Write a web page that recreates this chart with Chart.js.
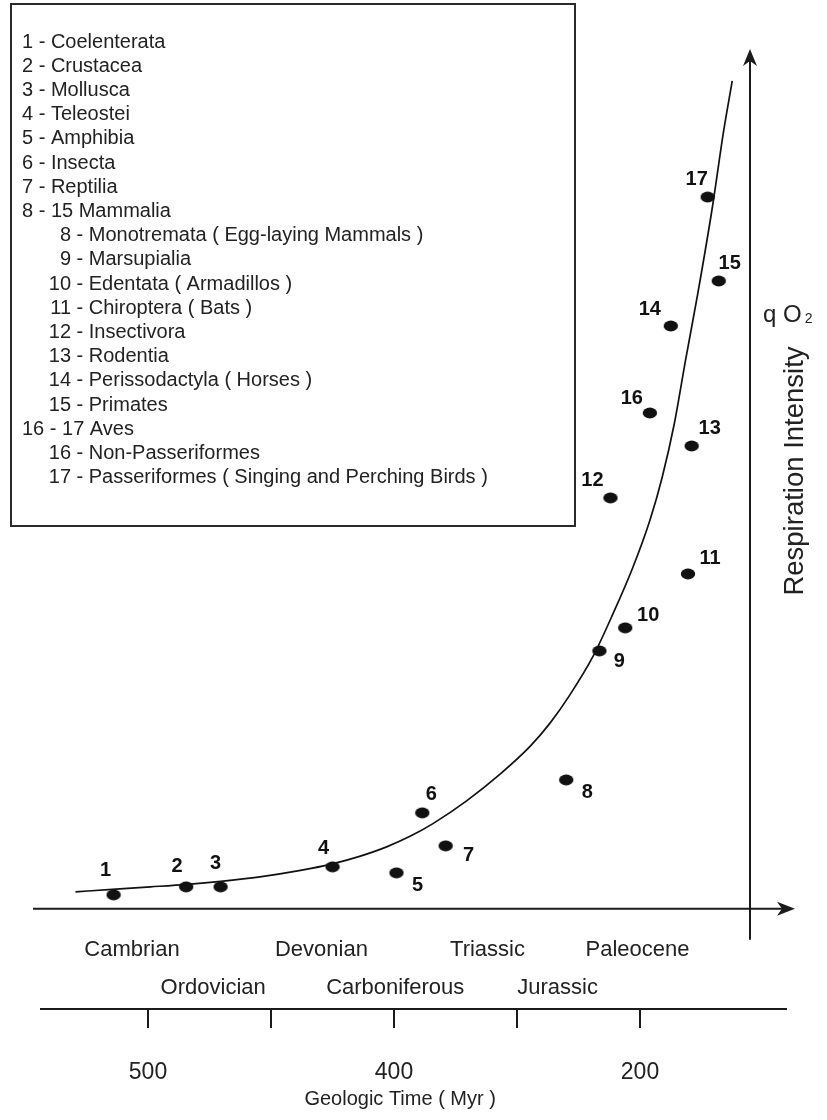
<!DOCTYPE html>
<html>
<head>
<meta charset="utf-8">
<title>Respiration intensity through geologic time</title>
<script src="https://cdn.jsdelivr.net/npm/chart.js@4.4.1/dist/chart.umd.min.js"></script>
<style>
  html, body { margin: 0; padding: 0; background: #fff; }
  canvas { display: block; }
</style>
</head>
<body>
<canvas id="chart" width="827" height="1120"></canvas>
<script>
// ---------------- data ----------------
const taxonIds = [1, 2, 3, 4, 5, 6, 7, 8, 9, 10, 11, 12, 13, 14, 15, 16, 17];
const taxonNames = [
  'Coelenterata', 'Crustacea', 'Mollusca', 'Teleostei', 'Amphibia', 'Insecta', 'Reptilia',
  'Monotremata ( Egg-laying Mammals )', 'Marsupialia', 'Edentata ( Armadillos )',
  'Chiroptera ( Bats )', 'Insectivora', 'Rodentia', 'Perissodactyla ( Horses )', 'Primates',
  'Non-Passeriformes', 'Passeriformes ( Singing and Perching Birds )'
];
const groupTitles = ['8 - 15 Mammalia', '16 - 17 Aves'];
const groupStarts = [8, 16];

// time axis position (tick units: 0 = 500 Myr, 2 = 400 Myr, 4 = 200 Myr)
const taxonTime = [-0.28, 0.31, 0.59, 1.50, 2.02, 2.23, 2.42, 3.40, 3.67, 3.88, 4.39, 3.76, 4.42, 4.25, 4.64, 4.08, 4.55];
// relative respiration intensity (q O2)
const taxonQO2 = [1.65, 2.59, 2.59, 4.95, 4.24, 11.31, 7.42, 15.19, 30.39, 33.10, 39.46, 48.41, 54.53, 68.67, 73.97, 58.42, 83.86];

// trend curve
const trendTime = [-0.59, -0.29, 0.02, 0.32, 0.59, 0.91, 1.24, 1.50, 1.72, 1.94, 2.13, 2.32, 2.59, 2.86, 3.11, 3.27, 3.43, 3.62, 3.78, 3.94, 4.08, 4.18, 4.28, 4.37, 4.47, 4.59, 4.68, 4.75];
const trendQO2  = [2.00, 2.30, 2.59, 2.89, 3.24, 3.77, 4.53, 5.30, 6.18, 7.30, 8.54, 10.07, 12.72, 15.84, 19.20, 21.91, 25.21, 29.80, 34.75, 40.16, 45.76, 50.82, 57.24, 64.61, 72.50, 82.80, 91.64, 97.53];

const timeTicks = [0, 1, 2, 3, 4];
const timeTickLabels = ['500', '', '400', '', '200'];
const timeTitle = 'Geologic Time ( Myr )';

const periodNames = ['Cambrian', 'Ordovician', 'Devonian', 'Carboniferous', 'Triassic', 'Jurassic', 'Paleocene'];
const periodTime  = [-0.13, 0.53, 1.41, 2.01, 2.76, 3.33, 3.98];
const periodRow   = [0, 1, 0, 1, 0, 1, 0];

// ---------------- styling ----------------
const FONT = "'Liberation Sans', Arial, Helvetica, sans-serif";
const INK = '#1b1b1b';
// label placement around each dot: [dx, dy] in pixels
const labelOffsets = [[-8,-26],[-9,-22],[-5,-25],[-9,-20],[21,11],[9,-20],[23,8],[21,11],[20,9],[23,-14],[22,-17],[-18,-19],[18,-19],[-21,-18],[11,-19],[-18,-16],[-11,-19]];

// elliptical dot marker
const dot = document.createElement('canvas');
dot.width = 16; dot.height = 12;
(function () {
  const d = dot.getContext('2d');
  d.fillStyle = '#111';
  d.beginPath();
  d.ellipse(8, 6, 7.2, 5.4, 0, 0, Math.PI * 2);
  d.fill();
})();

const taxonPoints = taxonTime.map((t, i) => ({ x: t, y: taxonQO2[i] }));
const trendPoints = trendTime.map((t, i) => ({ x: t, y: trendQO2[i] }));

function arrowHead(ctx, tipX, tipY, dir) {
  ctx.beginPath();
  if (dir === 'right') {
    ctx.moveTo(tipX, tipY);
    ctx.lineTo(tipX - 18, tipY - 7);
    ctx.lineTo(tipX - 13, tipY);
    ctx.lineTo(tipX - 18, tipY + 7);
  } else {
    ctx.moveTo(tipX, tipY);
    ctx.lineTo(tipX - 7, tipY + 17);
    ctx.lineTo(tipX, tipY + 12);
    ctx.lineTo(tipX + 7, tipY + 17);
  }
  ctx.closePath();
  ctx.fill();
}

const decorations = {
  id: 'decorations',
  afterDraw(chart) {
    const { ctx, chartArea, scales: { x, y } } = chart;
    ctx.save();
    ctx.strokeStyle = INK;
    ctx.fillStyle = INK;

    // horizontal axis with arrow
    const y0 = y.getPixelForValue(0);
    const axL = chartArea.left - 8, axR = chartArea.right + 9;
    ctx.lineWidth = 2;
    ctx.beginPath();
    ctx.moveTo(axL, y0);
    ctx.lineTo(axR - 12, y0);
    ctx.stroke();
    arrowHead(ctx, axR, y0, 'right');

    // vertical axis with arrow
    const vx = chartArea.right - 36;
    const vTop = chartArea.top - 11;
    ctx.beginPath();
    ctx.moveTo(vx, y0 + 31);
    ctx.lineTo(vx, vTop + 12);
    ctx.stroke();
    arrowHead(ctx, vx, vTop, 'up');

    // axis captions
    ctx.fillStyle = '#222';
    ctx.textAlign = 'left';
    ctx.textBaseline = 'alphabetic';
    ctx.font = `24px ${FONT}`;
    ctx.fillText('q O', vx + 13, 322);
    const qoW = ctx.measureText('q O').width;
    ctx.font = `14px ${FONT}`;
    ctx.fillText('2', vx + 13 + qoW + 3, 323);

    ctx.save();
    ctx.translate(vx + 45, 471);
    ctx.rotate(-Math.PI / 2);
    ctx.textAlign = 'center';
    ctx.textBaseline = 'middle';
    ctx.font = `27.5px ${FONT}`;
    ctx.fillText('Respiration Intensity', 0, 0);
    ctx.restore();

    // time axis caption
    ctx.font = `20px ${FONT}`;
    ctx.textAlign = 'center';
    ctx.textBaseline = 'alphabetic';
    ctx.fillText(timeTitle, x.getPixelForValue(2.05), 1105);

    // geologic periods
    ctx.font = `22px ${FONT}`;
    periodNames.forEach((name, i) => {
      ctx.fillText(name, x.getPixelForValue(periodTime[i]), y0 + 47 + periodRow[i] * 38);
    });

    // dot labels
    const meta = chart.getDatasetMeta(1);
    ctx.font = `bold 20px ${FONT}`;
    ctx.fillStyle = '#111';
    meta.data.forEach((pt, i) => {
      const [dx, dy] = labelOffsets[i];
      ctx.fillText(String(taxonIds[i]), pt.x + dx, pt.y + dy + 7);
    });

    // key box
    ctx.fillStyle = '#222';
    ctx.strokeStyle = '#2a2a2a';
    ctx.lineWidth = 2;
    ctx.strokeRect(11, 4, 564, 522);
    ctx.font = `20px ${FONT}`;
    const lines = [];
    taxonIds.forEach((id, i) => {
      const g = groupStarts.indexOf(id);
      if (g >= 0) lines.push({ num: null, text: groupTitles[g] });
      lines.push({ num: id, text: taxonNames[i], sub: id >= groupStarts[0] });
    });
    lines.forEach((ln, k) => {
      const by = 47.5 + k * 24.2;
      if (ln.num === null) {
        ctx.textAlign = 'left';
        ctx.fillText(ln.text, 22, by);
      } else if (ln.sub) {
        ctx.textAlign = 'right';
        ctx.fillText(String(ln.num), 71, by);
        ctx.textAlign = 'left';
        ctx.fillText(' - ' + ln.text, 71, by);
      } else {
        ctx.textAlign = 'left';
        ctx.fillText(ln.num + ' - ' + ln.text, 22, by);
      }
    });
    ctx.restore();
  }
};

new Chart(document.getElementById('chart'), {
  type: 'scatter',
  data: {
    datasets: [
      {
        label: 'trend',
        data: trendPoints,
        showLine: true,
        borderColor: '#111',
        borderWidth: 1.7,
        pointRadius: 0,
        cubicInterpolationMode: 'monotone',
        fill: false
      },
      {
        label: 'taxa',
        data: taxonPoints,
        pointStyle: dot,
        pointRadius: 7,
        backgroundColor: '#111',
        borderColor: '#111'
      }
    ]
  },
  options: {
    responsive: false,
    animation: false,
    events: [],
    layout: { padding: { left: 41, right: 41, top: 60, bottom: 0 } },
    plugins: {
      legend: { display: false },
      tooltip: { enabled: false }
    },
    scales: {
      x: {
        type: 'linear',
        position: 'bottom',
        min: -0.87,
        max: 5.187,
        afterFit(scale) { scale.height = 111; },
        afterBuildTicks(scale) { scale.ticks = timeTicks.map(v => ({ value: v })); },
        ticks: {
          autoSkip: false,
          maxRotation: 0,
          padding: 31,
          color: '#222',
          font: { family: FONT, size: 23 },
          callback: (v, i) => timeTickLabels[i]
        },
        grid: {
          drawOnChartArea: false,
          drawTicks: true,
          tickLength: 19,
          color: INK,
          lineWidth: 2
        },
        border: { display: true, color: INK, width: 2 },
        title: { display: false }
      },
      y: { display: false, min: -11.8, max: 100 }
    }
  },
  plugins: [decorations]
});
</script>
</body>
</html>
